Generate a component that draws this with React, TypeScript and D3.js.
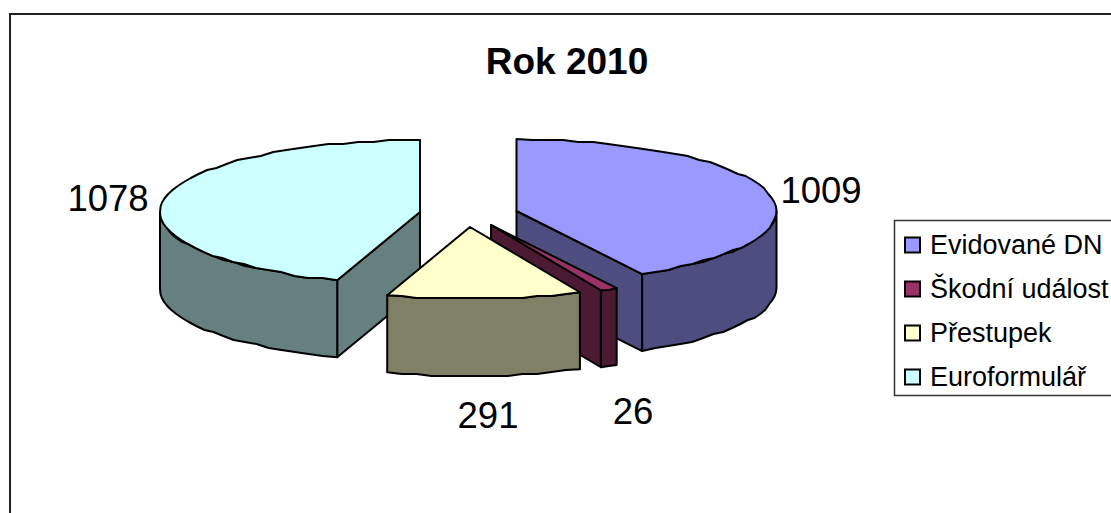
import React from "react";
import * as d3 from "d3";

const title = "Rok 2010";
const categories = ["Evidované DN", "Škodní událost", "Přestupek", "Euroformulář"];
const values = [1009, 26, 291, 1078];
const topColors = ["#9999FF", "#993366", "#FFFFCC", "#CCFFFF"];
const sideColors = ["#4D4D80", "#4D1A33", "#808066", "#668080"];

// exploded centre of every slice, on the picture
const centers: [number, number][] = [[516.5, 211], [491, 225], [470, 227], [420, 212]];
const labelPos: [number, number][] = [[821, 203], [633, 424], [488, 428], [108, 211]];
const RX = 260, RY = 72, DEPTH = 77;
const FONT = "'Liberation Sans', Arial, sans-serif";

const pie = d3.pie<number>().sort(null).startAngle(0).endAngle(2 * Math.PI);
const arcs = pie(values);
const lineGen = d3.line<[number, number]>();

function rim(c: [number, number], a: number, dz = 0): [number, number] {
  return [c[0] + RX * Math.sin(a), c[1] - RY * Math.cos(a) + dz];
}
// the reference's rims are slightly stepped: coarse samples on a 2px vertical grid
function sweep(c: [number, number], a0: number, a1: number, dz = 0): [number, number][] {
  const n = Math.max(1, Math.ceil(Math.abs(a1 - a0) / 0.06));
  return d3.range(n + 1).map((i) => {
    const p = rim(c, a0 + ((a1 - a0) * i) / n, dz);
    return i === 0 || i === n ? p : ([p[0], Math.round(p[1] / 2) * 2] as [number, number]);
  });
}
const closed = (pts: [number, number][]) => lineGen(pts) + "Z";

function Slice({ i }: { i: number }) {
  const c = centers[i];
  const { startAngle: a, endAngle: b } = arcs[i];
  const low: [number, number] = [c[0], c[1] + DEPTH];
  const stroke = { stroke: "#000", strokeWidth: 2, strokeLinejoin: "round" as const };
  const wa = Math.max(a, Math.PI / 2), wb = Math.min(b, (3 * Math.PI) / 2);
  return (
    <g>
      {a > Math.PI && (
        <path d={closed([c, rim(c, a), rim(c, a, DEPTH), low])} fill={sideColors[i]} {...stroke} />
      )}
      {b < Math.PI && (
        <path d={closed([c, rim(c, b), rim(c, b, DEPTH), low])} fill={sideColors[i]} {...stroke} />
      )}
      {wb > wa && (
        <path d={closed([...sweep(c, wa, wb), ...sweep(c, wb, wa, DEPTH)])} fill={sideColors[i]} {...stroke} />
      )}
      <path d={closed([c, ...sweep(c, a, b)])} fill={topColors[i]} {...stroke} />
    </g>
  );
}

const legendY = d3.scalePoint<string>().domain(categories).range([245, 377]);

export default function App() {
  return (
    <svg width={1111} height={513} style={{ position: "absolute", left: 0, top: 0, display: "block", background: "#fff" }} fontFamily={FONT}>
      <rect x={10} y={14} width={1200} height={600} fill="#fff" stroke="#222" strokeWidth={2} />
      <text x={567} y={74} textAnchor="middle" fontSize={37} fontWeight="bold" fill="#000">{title}</text>
      {[3, 0, 1, 2].map((i) => <Slice key={i} i={i} />)}
      {values.map((v, i) => (
        <text key={i} x={labelPos[i][0]} y={labelPos[i][1]} textAnchor="middle" fontSize={36.5} fill="#000">{v}</text>
      ))}
      <rect x={894.5} y={220.5} width={300} height={175} fill="#fff" stroke="#333" strokeWidth={1.5} />
      {categories.map((name, i) => (
        <g key={name}>
          <rect x={905} y={legendY(name)! - 7.5} width={15} height={15} fill={topColors[i]} stroke="#000" strokeWidth={2} />
          <text x={930} y={legendY(name)! + 9} fontSize={27} fill="#000">{name}</text>
        </g>
      ))}
    </svg>
  );
}
